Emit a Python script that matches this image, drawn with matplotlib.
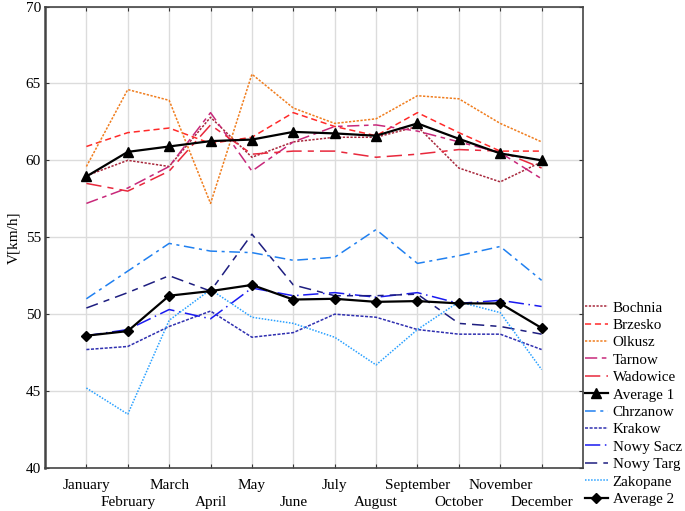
import matplotlib
matplotlib.use("Agg")
import matplotlib.pyplot as plt

months = ["January", "February", "March", "April", "May", "June", "July",
          "August", "September", "October", "November", "December"]

bochnia  = [59.0, 60.0, 59.6, 62.8, 60.2, 61.2, 61.5, 61.5, 62.2, 59.5, 58.6, 59.9]
brzesko  = [60.9, 61.8, 62.1, 61.1, 61.5, 63.1, 62.2, 61.6, 63.1, 61.8, 60.6, 60.6]
olkusz   = [59.6, 64.6, 63.9, 57.2, 65.6, 63.4, 62.4, 62.7, 64.2, 64.0, 62.4, 61.2]
tarnow   = [57.2, 58.2, 59.6, 63.1, 59.3, 61.2, 62.2, 62.3, 61.9, 61.2, 60.5, 58.8]
wadowice = [58.5, 58.0, 59.3, 62.3, 60.4, 60.6, 60.6, 60.2, 60.4, 60.7, 60.6, 59.5]
average1 = [58.95, 60.55, 60.9, 61.25, 61.35, 61.85, 61.75, 61.6, 62.4, 61.4, 60.45, 60.0]

chrzanow = [51.0, 52.8, 54.6, 54.1, 54.0, 53.5, 53.7, 55.5, 53.3, 53.8, 54.4, 52.2]
krakow   = [47.7, 47.9, 49.2, 50.2, 48.5, 48.8, 50.0, 49.8, 49.0, 48.7, 48.7, 47.7]
nowysacz = [48.6, 49.0, 50.3, 49.7, 51.7, 51.2, 51.4, 51.1, 51.4, 50.7, 50.9, 50.5]
nowytarg = [50.4, 51.4, 52.5, 51.5, 55.2, 51.9, 51.2, 51.2, 51.3, 49.4, 49.2, 48.7]
zakopane = [45.2, 43.5, 49.6, 51.6, 49.8, 49.4, 48.5, 46.7, 49.0, 50.8, 50.1, 46.4]
average2 = [48.6, 48.9, 51.2, 51.5, 51.9, 50.95, 51.0, 50.8, 50.85, 50.7, 50.7, 49.1]

yticks = [40, 45, 50, 55, 60, 65, 70]

plt.rcParams['font.family'] = ['Liberation Serif', 'DejaVu Serif']

fig = plt.figure(figsize=(6.85, 5.11), dpi=100)
ax = fig.add_axes([45/685, 1-468/511, (583-45)/685, (468-6.5)/511])

x = list(range(len(months)))

series = [
    ("Bochnia", bochnia, "#A8283C", (0, (1.5, 1.0)), None),
    ("Brzesko", brzesko, "#FF2A2A", (0, (4, 2.5)), None),
    ("Olkusz", olkusz, "#F07D1E", (0, (1.5, 1.0)), None),
    ("Tarnow", tarnow, "#C8287A", (0, (8, 3, 3, 3)), None),
    ("Wadowice", wadowice, "#E8283C", (0, (10, 4, 4, 4)), None),
    ("Average 1", average1, "black", "-", "^"),
    ("Chrzanow", chrzanow, "#2080F0", (0, (7, 3, 2, 3)), None),
    ("Krakow", krakow, "#3030B0", (0, (2, 1)), None),
    ("Nowy Sacz", nowysacz, "#1A1AF0", (0, (10, 3, 1, 3)), None),
    ("Nowy Targ", nowytarg, "#1E1E80", (0, (8, 4, 4, 4)), None),
    ("Zakopane", zakopane, "#28A0FF", (0, (1, 1)), None),
    ("Average 2", average2, "black", "-", "D"),
]

handles = []
for name, vals, col, ls, mk in series:
    if mk is None:
        h, = ax.plot(x, vals, color=col, linestyle=ls, lw=1.1, label=name)
    else:
        ms = 7 if mk == "^" else 5.5
        h, = ax.plot(x, vals, color=col, linestyle=ls, lw=1.6, marker=mk,
                     markersize=ms, label=name, zorder=5)
    handles.append(h)

ax.set_xlim(-1, 12)
ax.set_ylim(40, 70)
ax.set_yticks(yticks)
ax.set_yticklabels([str(v) for v in yticks], fontsize=11)
ax.set_xticks(x)
ax.set_xticklabels([])
for i, m in enumerate(months):
    off = 0 if i % 2 == 0 else 1
    ax.annotate(m, xy=(i, 40), xycoords='data', xytext=(0, -17 - off*17.5),
                textcoords='offset pixels', ha='center', va='center', fontsize=11)

ax.grid(True, color="#DCDCDC", lw=1.0)
ax.set_axisbelow(True)
ax.tick_params(axis='both', direction='in', length=3, color="#333333",
               top=True, right=True, labelsize=11, pad=3)
for s in ax.spines.values():
    s.set_color("#444444")
    s.set_linewidth(1.2)
ax.spines['left'].set_linewidth(1.8)

ax.set_ylabel("V[km/h]", fontsize=11, labelpad=4)

fig.legend(handles=handles, loc='upper left', bbox_to_anchor=(585/685, 1-301/511),
           frameon=False, fontsize=10.8, handlelength=1.5, handletextpad=0.35,
           labelspacing=0.26, borderaxespad=0, borderpad=0)

fig.savefig("out.png", dpi=100)
